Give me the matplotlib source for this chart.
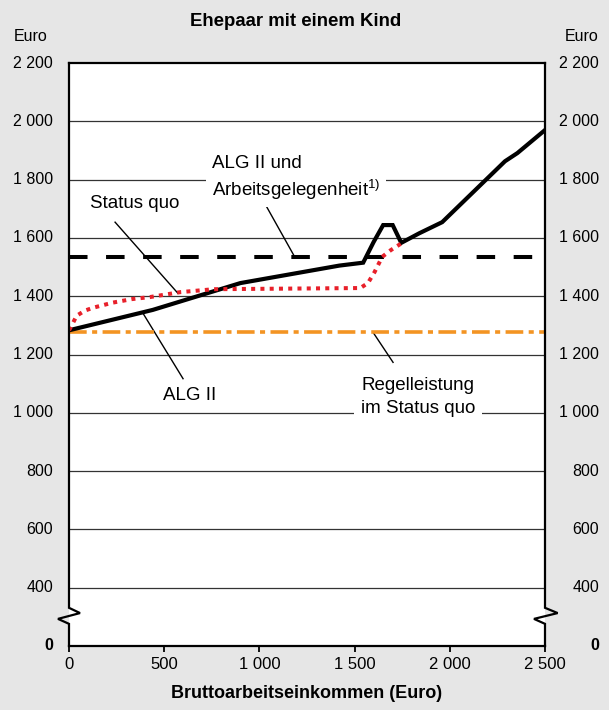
import matplotlib
matplotlib.use('Agg')
import matplotlib.pyplot as plt

plt.rcParams['font.family'] = ['Liberation Sans', 'DejaVu Sans']
plt.rcParams['mathtext.fontset'] = 'custom'
plt.rcParams['mathtext.rm'] = 'Liberation Sans'
plt.rcParams['mathtext.it'] = 'Liberation Sans:italic'

# ---------------- data ----------------
title = "Ehepaar mit einem Kind"
x_label = "Bruttoarbeitseinkommen (Euro)"
y_unit = "Euro"
x_ticks = [0, 500, 1000, 1500, 2000, 2500]
x_tick_labels = ["0", "500", "1 000", "1 500", "2 000", "2 500"]
# the axis is broken: the position 200 is labelled "0"
y_ticks = [200, 400, 600, 800, 1000, 1200, 1400, 1600, 1800, 2000, 2200]
y_tick_labels = ["0", "400", "600", "800", "1 000", "1 200", "1 400",
                 "1 600", "1 800", "2 000", "2 200"]

alg2_x = [0, 440, 900, 1420, 1545, 1600, 1650, 1700, 1745, 1840, 1960, 2290, 2355, 2500]
alg2_y = [1283, 1353, 1445, 1505, 1515, 1586, 1644, 1644, 1583, 1616, 1654, 1863, 1891, 1970]

sq_x = [0, 20, 40, 85, 130, 230, 330, 425, 585, 760, 1530, 1570, 1605, 1645, 1690, 1750]
sq_y = [1283, 1307, 1333, 1351, 1361, 1378, 1390, 1397, 1414, 1424, 1428, 1445, 1483, 1535, 1558, 1583]

ag_x = [0, 2500]
ag_y = [1535, 1535]

rl_x = [0, 2500]
rl_y = [1278, 1278]

# ---------------- figure ----------------
BG = '#e6e6e6'
fig = plt.figure(figsize=(6.09, 7.10), dpi=100, facecolor=BG)
ax = fig.add_axes([69/609, 1-646/710, 476/609, 583/710])
ax.set_facecolor('white')
ax.set_xlim(0, 2500)
ax.set_ylim(200, 2200)

# gridlines
for yv in y_ticks[1:-1]:
    ax.axhline(yv, color='#333333', lw=0.9, zorder=1)

# series
ax.plot(rl_x, rl_y, color='#f39423', lw=2.6, dashes=(4.9, 1.5, 1.4, 1.5),
        solid_capstyle='butt', dash_capstyle='butt', zorder=5)
ax.plot(ag_x, ag_y, color='black', lw=2.9, dashes=(4.6, 4.6),
        dash_capstyle='butt', zorder=5)
ax.plot(alg2_x, alg2_y, color='black', lw=3.0, solid_joinstyle='miter', zorder=6)
ax.plot(sq_x, sq_y, color='#e8202a', lw=2.9, dashes=(1.0, 1.3),
        dash_capstyle='butt', zorder=7)

# spines with axis break
for s in ['left', 'right']:
    ax.spines[s].set_visible(False)
for s in ['top', 'bottom']:
    ax.spines[s].set_linewidth(1.6)
    ax.spines[s].set_zorder(8)
yt = ax.get_yaxis_transform()
zz = 0.0231
ax.plot([0, 0, -zz, zz, 0, 0], [200, 276, 293, 313, 331, 2200], color='black',
        lw=1.6, transform=yt, clip_on=False, zorder=8, solid_joinstyle='miter')
ax.plot([1, 1, 1-zz, 1+zz*1.15, 1, 1], [200, 276, 293, 313, 331, 2200], color='black',
        lw=1.6, transform=yt, clip_on=False, zorder=8, solid_joinstyle='miter')

# ticks
ax.set_yticks([])
ax.set_xticks(x_ticks)
ax.set_xticklabels(x_tick_labels, fontsize=12)
ax.tick_params(axis='x', direction='out', length=4, width=1.3, pad=4)

for yv, lab in zip(y_ticks, y_tick_labels):
    fw = 'bold' if lab == "0" else 'normal'
    ax.text(-16/476, yv, lab, transform=yt, ha='right', va='center',
            fontsize=11.5, fontweight=fw, clip_on=False)
    ax.text(1 + 54/476, yv, lab, transform=yt, ha='right', va='center',
            fontsize=11.5, fontweight=fw, clip_on=False)

ax.text((14-69)/476, 2290, y_unit, transform=yt, ha='left', va='center', fontsize=11.5)
ax.text(1 + 53/476, 2290, y_unit, transform=yt, ha='right', va='center', fontsize=11.5)

fig.text(296/609, 1-21/710, title, ha='center', va='center', fontsize=13.4, fontweight='bold')
fig.text(307/609, 1-694/710, x_label, ha='center', va='center', fontsize=13, fontweight='bold')

# annotations
FS = 13.5
ax.text(751, 1856, "ALG II und", ha='left', va='center', fontsize=FS, zorder=4.5)
ax.text(751, 1766, r"Arbeitsgelegenheit$^{1)}$", ha='left', va='center', fontsize=FS,
        zorder=4, bbox=dict(facecolor='white', edgecolor='none', pad=4))
ax.text(110, 1719, "Status quo", ha='left', va='center', fontsize=FS, zorder=4)
ax.text(494, 1059, "ALG II", ha='left', va='center', fontsize=FS, zorder=4)
ax.text(1534, 1094, "Regelleistung", ha='left', va='center', fontsize=FS, zorder=4.5)
ax.text(1534, 1014, "im Status quo", ha='left', va='center', fontsize=FS, zorder=4,
        bbox=dict(facecolor='white', edgecolor='none', pad=5))

lk = dict(color='black', lw=1.0, zorder=3)
ax.plot([1019, 1187], [1729, 1533], **lk)
ax.plot([242, 572], [1654, 1410], **lk)
ax.plot([389, 599], [1341, 1117], **lk)
ax.plot([1597, 1702], [1276, 1173], **lk)

fig.savefig('out.png', dpi=100, facecolor=BG)
